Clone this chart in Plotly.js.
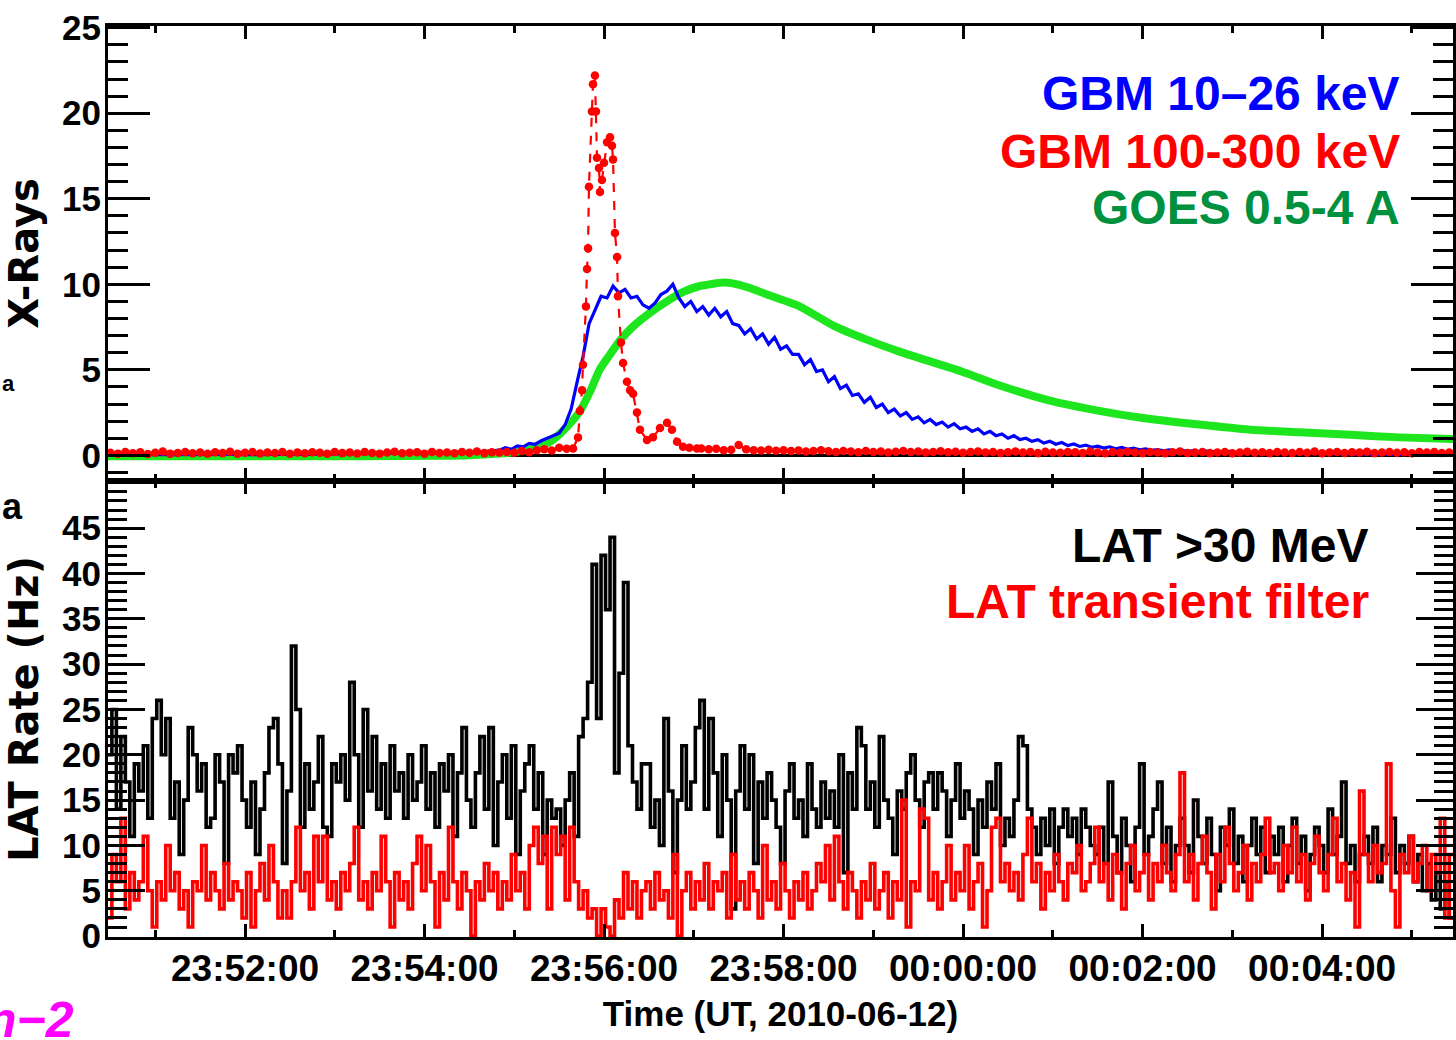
<!DOCTYPE html>
<html><head><meta charset="utf-8">
<script src="https://cdn.plot.ly/plotly-3.0.1.min.js"></script>
<style>html,body{margin:0;padding:0;background:#fff}#chart{width:1456px;height:1040px}</style>
</head><body><div id="chart"></div>
<script>
// ---- time reference: seconds after 2010-06-12 23:50:00 UT ----
const xRangeSec = [28.4, 927.5];
const tickLabels = ["23:52:00","23:54:00","23:56:00","23:58:00","00:00:00","00:02:00","00:04:00"];

// ---- GBM 10-26 keV (blue) ----
const gbmLoPreStart = 30, gbmLoPreStep = 10;
const gbmLoPre = [0.02,0.05,0.03,0.06,0.04,0.05,0.03,0.06,0.05,0.04,0.06,0.05,0.07,0.05,0.06,0.08,0.07,0.09,0.1,0.11,0.12,0.14,0.15,0.17,0.19,0.22];
const gbmLoStart = 290, gbmLoStep = 4;
const gbmLo = [
 0.3,0.45,0.35,0.55,0.5,0.7,0.65,0.85,1.0,1.15,
 1.3,1.8,2.7,4.3,5.8,7.7,8.5,9.3,9.2,9.9,
 9.5,9.7,9.2,9.3,8.8,8.6,8.9,9.4,9.6,10.0,
 9.2,8.7,9.0,8.4,8.7,8.2,8.6,8.1,8.4,7.7,
 7.6,7.1,7.4,6.8,7.1,6.5,6.9,6.2,6.4,5.9,
 5.9,5.3,5.6,4.9,5.0,4.3,4.6,3.9,4.1,3.5,
 3.6,3.1,3.4,2.8,3.0,2.5,2.7,2.3,2.5,2.1,
 2.25,1.9,2.1,1.8,1.95,1.65,1.85,1.55,1.65,1.4,
 1.55,1.25,1.4,1.15,1.25,1.0,1.15,0.92,1.0,0.82,
 0.92,0.72,0.82,0.65,0.75,0.57,0.66,0.52,0.6,0.47,
 0.54,0.43,0.5,0.38,0.46,0.35,0.42,0.32,0.38,0.29,
 0.34,0.26,0.32,0.24,0.3,0.22,0.28,0.21,0.26,0.19,
 0.24,0.17,0.23,0.16,0.21,0.15,0.2,0.13,0.19,0.12,
 0.17,0.11,0.16,0.1,0.15,0.09,0.14,0.08,0.13,0.08,
 0.12,0.07,0.11,0.06,0.1,0.06,0.09,0.05,0.09,0.05,
 0.08,0.04,0.07,0.04,0.07,0.03,0.06,0.04,0.05,0.04];

// ---- GBM 100-300 keV (red dashed, dots) ----
const gbmHiPreStart = 30, gbmHiPreStep = 5;
const gbmHiPre = [
 0.15,0.1,0.2,0.12,0.18,0.08,0.15,0.22,0.1,0.14,
 0.2,0.12,0.16,0.09,0.18,0.13,0.21,0.1,0.15,0.19,
 0.11,0.17,0.14,0.2,0.09,0.16,0.12,0.18,0.15,0.1,
 0.2,0.13,0.17,0.11,0.19,0.14,0.1,0.16,0.21,0.12,
 0.15,0.18,0.1,0.2,0.14,0.17,0.12,0.19,0.15,0.22,
 0.13,0.18,0.16,0.2,0.15,0.25,0.18,0.3,0.35,0.28,
 0.45,0.38];
const gbmHiFlareT = [339.3,342.6,343.9,345.3,345.9,347.9,348.6,349.3,349.9,351.9,352.6,353.9,354.6,355.3,356.6,357.3,358.6,360.0,362.0,364.0,365.3,366.0,367.3,368.7,369.3,371.3,372.7,375.3,377.4,379.4,382.0,384.0,388.7,392.7,397.4,402.1,405.4,408.8,412.8,417.0,422.1];
const gbmHiFlareV = [0.4,1.05,2.6,3.8,5.3,8.7,10.9,12.1,15.7,20.1,21.7,22.2,20.1,17.4,16.8,15.4,16.1,17.1,18.3,18.6,18.1,17.3,13.0,11.6,9.3,6.6,5.4,4.3,3.8,3.6,2.5,1.5,0.9,1.06,1.6,1.9,1.5,0.8,0.5,0.45,0.4];
const gbmHiPostStart = 425, gbmHiPostStep = 5;
const gbmHiPost = [
 0.4,0.35,0.38,0.3,0.33,0.6,0.35,0.3,0.28,0.32,
 0.27,0.3,0.25,0.28,0.22,0.26,0.3,0.24,0.2,0.25,
 0.22,0.18,0.26,0.2,0.23,0.17,0.21,0.25,0.19,0.22,
 0.16,0.2,0.24,0.18,0.21,0.15,0.19,0.23,0.17,0.2,
 0.14,0.18,0.22,0.16,0.19,0.13,0.21,0.17,0.15,0.2,
 0.18,0.14,0.22,0.16,0.12,0.19,0.15,0.21,0.17,0.13,
 0.2,0.16,0.12,0.18,0.22,0.14,0.17,0.2,0.13,0.16,
 0.19,0.12,0.17,0.21,0.15,0.18,0.13,0.2,0.16,0.14,
 0.19,0.15,0.22,0.12,0.17,0.2,0.14,0.18,0.16,0.21,
 0.13,0.17,0.2,0.15,0.18,0.12,0.19,0.16,0.2,0.14,
 0.17];

// ---- GOES 0.5-4 A (green) ----
const goesT = [28,80,140,200,250,270,290,301,312,324,335,344,351,357,364,371,379,391,402,413,424,440,446,457,469,491,513,536,558,599,624,658,691,719,758,792,825,859,892,928];
const goesV = [-0.05,-0.05,-0.06,-0.05,-0.03,0.0,0.1,0.2,0.4,0.8,1.65,2.6,3.8,5.0,5.9,6.75,7.5,8.35,9.0,9.55,9.9,10.1,10.05,9.8,9.4,8.7,7.6,6.75,6.05,4.9,4.1,3.2,2.6,2.2,1.8,1.5,1.35,1.2,1.05,0.95];

// ---- LAT rates, 3 s bins starting at 28 s ----
const latStart = 28, latBin = 3;
const latHigh = [
 20,25,14,22,17,11,19,16,21,13,24,26,20,24,13,17,9,15,23,20,
 16,19,12,13,20,17,8,20,18,21,15,12,17,9,14,18,23,24,19,8,
 16,32,25,12,19,14,17,22,12,11,19,17,20,15,28,20,12,25,16,22,
 14,19,13,21,16,18,13,20,15,17,21,14,18,12,19,16,20,11,18,23,
 15,12,18,22,14,23,10,17,20,13,21,9,16,19,21,14,18,9,15,13,
 14,10,15,18,11,22,24,28,41,24,42,36,44,18,29,39,21,17,14,19,
 19,12,15,10,24,16,7,15,21,14,17,23,26,14,24,18,11,20,15,3,
 16,21,14,20,8,17,13,18,15,12,8,16,19,13,15,11,19,14,12,17,
 13,16,12,20,7,18,14,23,21,14,17,12,22,15,13,9,16,14,18,20,
 15,12,17,18,14,18,16,11,15,19,13,16,14,9,15,12,17,14,19,10,
 13,11,15,22,21,14,12,9,13,10,14,8,12,14,11,13,9,14,12,10,
 9,12,8,17,11,7,13,10,6,12,19,9,11,14,17,8,12,6,10,13,
 10,7,15,11,8,13,9,5,12,10,14,8,11,6,10,13,9,12,7,11,
 9,12,6,10,13,8,11,5,9,12,10,7,14,9,11,17,8,10,6,9,
 11,8,12,6,10,9,13,7,10,8,11,6,9,5,8,4,7,3,6,2];
const latFilter = [
 2,9,6,13,3,7,4,6,11,5,1,6,4,10,5,7,3,5,1,6,
 5,10,4,7,5,3,8,4,6,5,2,7,1,5,8,4,10,6,2,5,
 2,6,12,5,7,3,11,6,11,4,6,3,7,5,8,12,4,6,3,7,
 5,11,6,1,7,4,6,3,8,11,5,10,6,1,7,4,12,6,3,7,
 5,0,6,4,8,5,7,3,6,4,9,5,7,3,10,12,8,11,3,12,
 9,11,4,12,6,3,5,2,3,0,3,1,0,4,2,7,3,6,2,5,
 6,3,7,4,5,2,9,0,5,7,3,6,4,8,3,6,5,7,2,9,
 4,6,3,7,5,2,10,4,6,3,8,5,2,6,4,7,3,5,8,6,
 10,4,11,6,3,7,5,2,6,4,8,3,5,7,2,6,4,15,1,6,
 5,14,13,4,7,3,6,10,4,7,5,10,3,6,8,1,5,12,13,6,
 8,5,7,4,9,13,6,8,3,7,5,9,6,4,8,7,10,5,6,8,
 12,6,8,4,9,7,3,8,10,5,7,9,4,8,6,10,7,5,9,18,
 6,9,4,8,11,7,3,9,6,12,8,5,7,10,4,8,6,9,13,7,
 8,5,10,7,12,6,9,4,8,11,7,5,9,13,6,8,4,7,1,16,
 9,6,10,7,8,19,5,1,9,7,11,6,8,10,5,9,7,13,2,9];

// ---- helpers ----
const T0 = Date.UTC(2010,5,12,23,50,0);
function d(s){ return new Date(T0 + Math.round(s*1000)).toISOString().slice(0,23).replace('T',' '); }
function grid(start, step, n){ const a=[]; for(let i=0;i<n;i++) a.push(start+i*step); return a; }

const loT = grid(gbmLoPreStart,gbmLoPreStep,gbmLoPre.length).concat(grid(gbmLoStart,gbmLoStep,gbmLo.length));
const loV = gbmLoPre.concat(gbmLo);
const hiT = grid(gbmHiPreStart,gbmHiPreStep,gbmHiPre.length).concat(gbmHiFlareT, grid(gbmHiPostStart,gbmHiPostStep,gbmHiPost.length));
const hiV = gbmHiPre.concat(gbmHiFlareV, gbmHiPost);
const latT = grid(latStart, latBin, latHigh.length + 1);
const latHighS = latHigh.concat([latHigh[latHigh.length-1]]);
const latFilterS = latFilter.concat([latFilter[latFilter.length-1]]);

const traces = [
 {x: goesT.map(d), y: goesV, xaxis:'x2', yaxis:'y2', type:'scatter', mode:'lines',
  line:{color:'#1ee61e', width:8, shape:'spline', smoothing:0.6}, name:'GOES 0.5-4 A'},
 {x: loT.map(d), y: loV, xaxis:'x2', yaxis:'y2', type:'scatter', mode:'lines',
  line:{color:'#0000ff', width:3.2}, name:'GBM 10–26 keV'},
 {x: hiT.map(d), y: hiV, xaxis:'x2', yaxis:'y2', type:'scatter', mode:'lines+markers',
  line:{color:'#ff0000', width:2.2, dash:'dash'}, marker:{color:'#ff0000', size:8.5}, name:'GBM 100-300 keV'},
 {x: latT.map(d), y: latHighS, xaxis:'x', yaxis:'y', type:'scatter', mode:'lines',
  line:{color:'#000000', width:3.6, shape:'hv'}, name:'LAT >30 MeV'},
 {x: latT.map(d), y: latFilterS, xaxis:'x', yaxis:'y', type:'scatter', mode:'lines',
  line:{color:'#ff0000', width:3.6, shape:'hv'}, name:'LAT transient filter'}
];

const FAM = 'Liberation Sans, Arial, sans-serif';
const tickFont = {family:FAM, size:37, color:'#000', weight:'bold'};
const yTickFont = {family:FAM, size:35, color:'#000', weight:'bold'};
const xCommon = {
 type:'date', range:[d(xRangeSec[0]), d(xRangeSec[1])],
 tickmode:'array', tickvals: tickLabels.map((s,i)=>d(120+120*i)), ticktext: tickLabels,
 ticks:'inside', ticklen:13, tickwidth:3, tickcolor:'#000',
 showline:true, linewidth:3, linecolor:'#000', mirror:'ticks',
 showgrid:false, zeroline:false,
 minor:{tickmode:'array', tickvals: grid(60,120,8).map(d), ticks:'inside', ticklen:7, tickwidth:3, tickcolor:'#000', showgrid:false}
};
const latTicks = [0,5,10,15,20,25,30,35,40,45];
const xrayTicks = [0,5,10,15,20,25];

const yDom = 456/911;
const layout = {
 width:1456, height:1040,
 margin:{l:108, r:3, t:26, b:103},
 paper_bgcolor:'#fff', plot_bgcolor:'#fff',
 showlegend:false, hovermode:false,
 xaxis: Object.assign({}, xCommon, {anchor:'y', domain:[0,1], tickfont:tickFont, ticklabelstandoff:-3,
   title:{text:'Time (UT, 2010-06-12)', font:{family:FAM, size:35, color:'#000', weight:'bold'}, standoff:14}}),
 xaxis2: Object.assign({}, xCommon, {anchor:'y2', domain:[0,1], matches:'x', showticklabels:false}),
 yaxis: {anchor:'x', domain:[0, yDom], range:[-0.1, 50.2], tickmode:'array', tickvals:latTicks, ticktext:latTicks.map(String),
   ticks:'inside', ticklen:37, tickwidth:3, tickcolor:'#000', showline:true, linewidth:3, linecolor:'#000', mirror:'ticks',
   showgrid:false, zeroline:false, tickfont:yTickFont, ticklabelstandoff:-3,
   minor:{tickmode:'linear', tick0:0, dtick:1, ticks:'inside', ticklen:19, tickwidth:3, tickcolor:'#000', showgrid:false},
   title:{text:'LAT Rate (Hz)', font:{family:'DejaVu Sans', size:40, color:'#000', weight:'bold'}, standoff:12}},
 yaxis2: {anchor:'x2', domain:[yDom, 1], range:[-1.5, 25.1], tickmode:'array', tickvals:xrayTicks, ticktext:xrayTicks.map(String),
   ticks:'inside', ticklen:42, tickwidth:3, tickcolor:'#000', showline:true, linewidth:3, linecolor:'#000', mirror:'ticks',
   showgrid:false, zeroline:true, zerolinecolor:'#000', zerolinewidth:3, tickfont:yTickFont, ticklabelstandoff:-3,
   minor:{tickmode:'linear', tick0:0, dtick:1, ticks:'inside', ticklen:20, tickwidth:3, tickcolor:'#000', showgrid:false},
   title:{text:'X-Rays', font:{family:'DejaVu Sans', size:40, color:'#000', weight:'bold'}, standoff:12}},
 annotations: [
  {text:'GBM 10–26 keV', xref:'paper', yref:'paper', x:(1402-108)/1345, y:(937-94)/911, xanchor:'right', yanchor:'middle', showarrow:false,
   font:{family:FAM, size:48, color:'#0000ff', weight:'bold'}},
  {text:'GBM 100-300 keV', xref:'paper', yref:'paper', x:(1402-108)/1345, y:(937-151)/911, xanchor:'right', yanchor:'middle', showarrow:false,
   font:{family:FAM, size:48, color:'#ff0000', weight:'bold'}},
  {text:'GOES 0.5-4 A', xref:'paper', yref:'paper', x:(1402-108)/1345, y:(937-208)/911, xanchor:'right', yanchor:'middle', showarrow:false,
   font:{family:FAM, size:48, color:'#00913f', weight:'bold'}},
  {text:'LAT >30 MeV', xref:'paper', yref:'paper', x:(1371-108)/1345, y:(937-545)/911, xanchor:'right', yanchor:'middle', showarrow:false,
   font:{family:FAM, size:48, color:'#000000', weight:'bold'}},
  {text:'LAT transient filter', xref:'paper', yref:'paper', x:(1371-108)/1345, y:(937-601)/911, xanchor:'right', yanchor:'middle', showarrow:false,
   font:{family:FAM, size:48, color:'#ff0000', weight:'bold'}},
  {text:'a', xref:'paper', yref:'paper', x:(0-108)/1345, y:(937-383)/911, xanchor:'left', yanchor:'middle', showarrow:false,
   font:{family:FAM, size:22, color:'#000', weight:'bold'}},
  {text:'a', xref:'paper', yref:'paper', x:(0-108)/1345, y:(937-506)/911, xanchor:'left', yanchor:'middle', showarrow:false,
   font:{family:FAM, size:36, color:'#000', weight:'bold'}},
  {text:'n−2', xref:'paper', yref:'paper', x:(76-108)/1345, y:(937-1020)/911, xanchor:'right', yanchor:'middle', showarrow:false,
   font:{family:FAM, size:50, color:'#ff00ff', weight:'bold', style:'italic'}}
 ]
};

Plotly.newPlot('chart', traces, layout, {staticPlot:true, displayModeBar:false});
</script>
</body></html>
